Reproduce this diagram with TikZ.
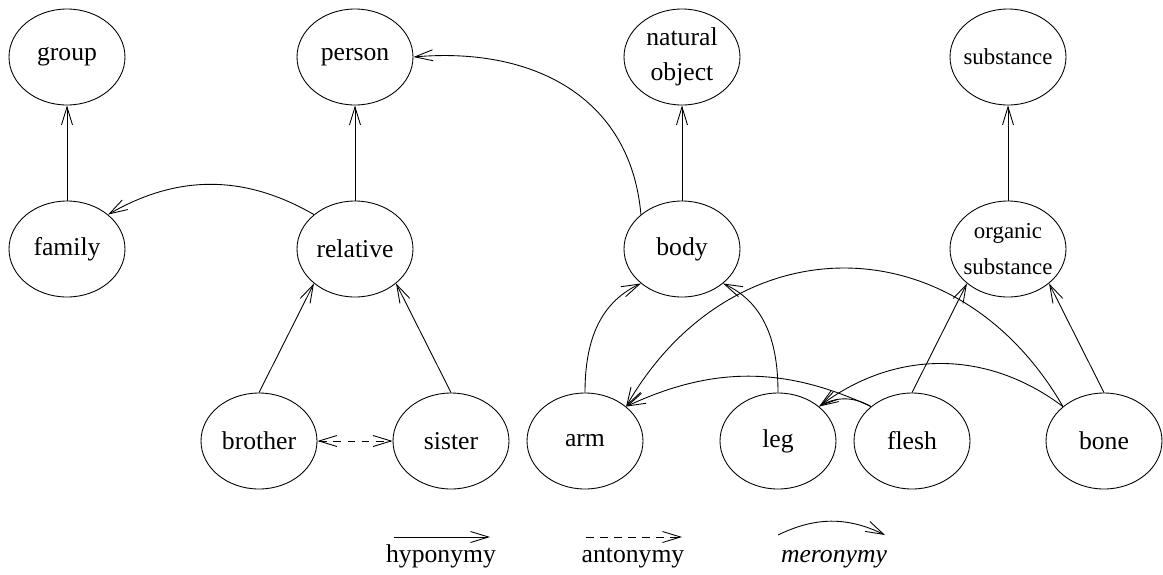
\documentclass[tikz,border=0pt]{standalone}
\usepackage{fontspec}
\setmainfont{Liberation Serif}
\usetikzlibrary{shapes.geometric,arrows.meta,positioning}

\tikzset{
  concept/.style={draw, ellipse, minimum width=2.32cm, minimum height=1.92cm,
    inner sep=0pt, align=center, font=\fontsize{14.6}{20}\selectfont},
  smalltext/.style={font=\fontsize{13}{20}\selectfont, inner xsep=-6pt},
  hypo/.style={-{Straight Barb[length=3.6mm,width=2.2mm]}},
  anto/.style={dash pattern=on 4.5pt off 3.5pt,
    {Straight Barb[length=3.6mm,width=2.2mm]}-{Straight Barb[length=3.6mm,width=2.2mm]}},
  mero/.style={-{Straight Barb[length=3.6mm,width=2.2mm]}},
  legendtext/.style={anchor=base, font=\fontsize{14.6}{20}\selectfont}
}

\begin{document}
\begin{tikzpicture}[on grid, line width=0.5pt]
\useasboundingbox (-1.34,1.14) rectangle (21.92,-10.34);
\node[concept] (group) {group};
\node[concept, right=5.76cm of group] (person) {person};
\node[concept, right=6.54cm of person] (natobj) {natural\\object};
\node[concept, smalltext, right=6.52cm of natobj] (subst) {substance};
\node[concept, below=3.84cm of group] (family) {family};
\node[concept, below=3.84cm of person] (relative) {relative};
\node[concept, below=3.84cm of natobj] (body) {body};
\node[concept, smalltext, below=3.84cm of subst] (orgsubst) {organic\\substance};
\node[concept, below left=3.84cm and 1.92cm of relative] (brother) {brother};
\node[concept, below right=3.84cm and 1.92cm of relative] (sister) {sister};
\node[concept, below left=3.84cm and 1.94cm of body] (arm) {arm};
\node[concept, below right=3.84cm and 1.92cm of body] (leg) {leg};
\node[concept, below left=3.84cm and 1.92cm of orgsubst] (flesh) {flesh};
\node[concept, below right=3.84cm and 1.92cm of orgsubst] (bone) {bone};

\draw[hypo] (family) -- (group);
\draw[hypo] (relative) -- (person);
\draw[hypo] (body) -- (natobj);
\draw[hypo] (orgsubst) -- (subst);
\draw[hypo] (brother.north) -- (relative.220);
\draw[hypo] (sister.north) -- (relative.320);
\draw[hypo] (flesh.north) -- (orgsubst.220);
\draw[hypo] (bone.north) -- (orgsubst.320);
\draw[anto] (brother) -- (sister);

\draw[mero] (relative.140) to[bend right=30] (family.40);
\draw[mero] (body.140) to[out=95,in=5,looseness=1.1] (person.east);
\draw[mero] (arm.north) to[out=90,in=205] (body.220);
\draw[mero] (leg.north) to[out=90,in=-25] (body.320);
\draw[mero] (bone.140) to[out=120,in=60,looseness=1.25] (arm.40);
\draw[mero] (flesh.140) to[bend right=25] (arm.40);
\draw[mero] (bone.140) to[bend right=37] (leg.40);
\draw[mero] (flesh.140) to[bend right=30] (leg.40);

\coordinate (hypA) at (6.54,-9.6);
\coordinate (hypB) at (8.46,-9.6);
\coordinate (antA) at (10.38,-9.6);
\coordinate (antB) at (12.3,-9.6);
\coordinate (merA) at (14.22,-9.56);
\coordinate (merB) at (16.36,-9.56);
\draw[hypo] (hypA) -- (hypB);
\draw[dash pattern=on 4.5pt off 3.5pt, -{Straight Barb[length=3.6mm,width=2.2mm]}] (antA) -- (antB);
\draw[mero] (merA) to[bend left=26] (merB);
\node[legendtext] (hyplabel) at (7.48,-10.1) {hyponymy};
\node[legendtext] (antlabel) at (11.32,-10.1) {antonymy};
\node[legendtext] (merlabel) at (15.34,-10.1) {\itshape meronymy};
\end{tikzpicture}
\end{document}
